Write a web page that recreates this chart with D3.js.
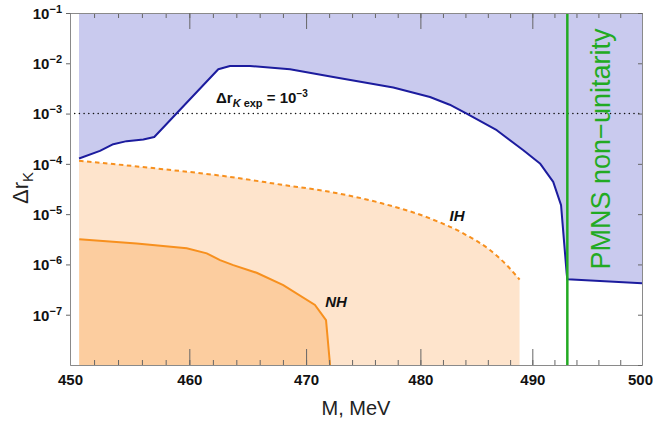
<!DOCTYPE html>
<meta charset="utf-8" />
<script src="https://d3js.org/d3.v7.min.js"></script>
<body style="margin:0;background:#fff">
<svg id="chart" width="653" height="423"></svg>
<script>
/* ── DATA ── */
const blueM = [450.75,452.49,453.60,454.72,456.12,457.04,462.46,463.46,465.17,468.61,472.36,477.61,480.85,482.6,484.11,486.80,489.19,490.69,491.89,492.60,493.11,493.17,500];
const blueR = [1.28e-4,1.81e-4,2.46e-4,2.83e-4,3.05e-4,3.43e-4,7.6e-3,8.85e-3,8.85e-3,7.6e-3,5.35e-3,3.30e-3,2.14e-3,1.5e-3,1.0e-3,4.67e-4,1.87e-4,1.02e-4,4.39e-5,1.51e-5,6.64e-7,5.05e-7,4.2e-7];

const ihM = [450.75,457.24,463.46,467.75,472.08,476.44,480.85,483.81,486.19,487.69,488.85];
const ihR = [1.15e-4,8.09e-5,5.51e-5,3.89e-5,2.77e-5,1.68e-5,8.22e-6,4.14e-6,1.93e-6,9.7e-7,5.0e-7];

const nhM = [450.77,455.56,459.78,461.48,462.61,463.74,465.74,468.03,470.77,471.73,472.08];
const nhR = [3.18e-6,2.62e-6,2.09e-6,1.66e-6,1.22e-6,9.7e-7,6.82e-7,3.88e-7,1.56e-7,7.83e-8,1e-8];

const pmnsM = 493.17;      // m_K - m_e
const expLimit = 1e-3;
const xMajor = [450,460,470,480,490,500];
const xMinor = d3.range(450,501,2);
const yTicks = [1e-8,1e-7,1e-6,1e-5,1e-4,1e-3,1e-2,1e-1];
const yLabelExp = [-7,-6,-5,-4,-3,-2,-1];

/* ── SETUP ── */
const L = 70, R = 642, T = 13, B = 365;
const font = "'Liberation Sans', Arial, sans-serif";
const svg = d3.select("#chart").style("font-family", font);
const x = d3.scaleLog().domain([450,500]).range([L,R]);
const y = d3.scaleLog().domain([1e-8,1e-1]).range([B,T]);
const zip = (a,b) => a.map((m,i)=>[m,b[i]]);

svg.append("clipPath").attr("id","clip")
  .append("rect").attr("x",L).attr("y",T).attr("width",R-L).attr("height",B-T);
const plot = svg.append("g").attr("clip-path","url(#clip)");

const line = d3.line().x(d=>x(d[0])).y(d=>y(d[1]));
const smooth = d3.line().x(d=>x(d[0])).y(d=>y(d[1])).curve(d3.curveMonotoneX);
const blue = zip(blueM,blueR), ih = zip(ihM,ihR), nh = zip(nhM,nhR);

// blue excluded region: above curve
plot.append("path")
  .attr("d", line([[blueM[0],1e-1], ...blue, [500,1e-1]]) + "Z")
  .attr("fill","#c9caee");
// IH and NH regions
plot.append("path")
  .attr("d", smooth(ih) + `L${x(ihM[ihM.length-1])},${y(1e-8)}L${x(ihM[0])},${y(1e-8)}Z`)
  .attr("fill","#fee4cc");
plot.append("path")
  .attr("d", line([[nhM[0],1e-8], ...nh]) + "Z")
  .attr("fill","#fccd9f");

// dotted experimental line
plot.append("line")
  .attr("x1",L).attr("x2",R).attr("y1",y(expLimit)).attr("y2",y(expLimit))
  .attr("stroke","#111").attr("stroke-width",1.6)
  .attr("stroke-linecap","round").attr("stroke-dasharray","0,4.7");

plot.append("path").attr("d",smooth(ih)).attr("fill","none")
  .attr("stroke","#f7901e").attr("stroke-width",2).attr("stroke-dasharray","4.5,3.5");
plot.append("path").attr("d",line(nh)).attr("fill","none")
  .attr("stroke","#f7901e").attr("stroke-width",2);
plot.append("path").attr("d",line(blue)).attr("fill","none")
  .attr("stroke","#1c1c9e").attr("stroke-width",2).attr("stroke-linejoin","round");

plot.append("line")
  .attr("x1",x(pmnsM)).attr("x2",x(pmnsM)).attr("y1",T).attr("y2",B)
  .attr("stroke","#22aa22").attr("stroke-width",2.5);

/* ── AXES / FRAME ── */
function styleAx(g){
  g.selectAll("path.domain").attr("stroke","#8a8a8a");
  g.selectAll(".tick line").attr("stroke","#666");
}
svg.append("g").attr("transform",`translate(0,${B})`)
  .call(d3.axisBottom(x).tickValues(xMinor).tickSize(-5).tickSizeOuter(0).tickFormat(""))
  .call(styleAx);
svg.append("g").attr("transform",`translate(0,${B})`)
  .call(d3.axisBottom(x).tickValues(xMajor).tickSize(-16).tickSizeOuter(0).tickPadding(9).tickFormat(d3.format("d")))
  .call(styleAx)
  .call(g=>g.selectAll(".tick text").attr("font-size",15).attr("font-weight","bold")
    .attr("font-family",font).attr("fill","#111")
    .attr("dx",d=>d===500?-2:0));
svg.append("g").attr("transform",`translate(0,${T})`)
  .call(d3.axisTop(x).tickValues(xMinor).tickSize(-5).tickSizeOuter(0).tickFormat(""))
  .call(styleAx);
svg.append("g").attr("transform",`translate(0,${T})`)
  .call(d3.axisTop(x).tickValues(xMajor).tickSize(-16).tickSizeOuter(0).tickFormat(""))
  .call(styleAx);
svg.append("g").attr("transform",`translate(${R},0)`)
  .call(d3.axisRight(y).tickValues(yTicks).tickSize(-4).tickSizeOuter(0).tickFormat(""))
  .call(styleAx);
svg.append("g").attr("transform",`translate(${L},0)`)
  .call(d3.axisLeft(y).tickValues(yTicks.slice(1)).tickSize(4).tickSizeOuter(0).tickPadding(4).tickFormat(""))
  .call(styleAx)
  .call(g=>g.selectAll(".tick text").each(function(d,i){
    const t = d3.select(this).attr("font-family",font).attr("fill","#111")
      .attr("font-weight","bold").attr("font-size",15).attr("dy","0.36em");
    t.append("tspan").text("10");
    t.append("tspan").attr("font-size",11).attr("dy","-0.55em").text("\u2212" + (-yLabelExp[i]));
  }));

/* ── TEXT ── */
svg.append("text").attr("x",356).attr("y",415).attr("text-anchor","middle")
  .attr("font-size",20).attr("fill","#222").text("M, MeV");

const yl = svg.append("text").attr("transform","translate(28,188) rotate(-90)")
  .attr("text-anchor","middle").attr("font-size",22).attr("fill","#222");
yl.append("tspan").text("\u0394r");
yl.append("tspan").attr("font-size",15).attr("dy",5).text("K");

svg.append("text").attr("transform",`translate(610,149) rotate(-90)`)
  .attr("text-anchor","middle").attr("font-size",27).attr("fill","#22aa22")
  .text("PMNS non\u2212unitarity");

const ex = svg.append("text").attr("x",216).attr("y",103)
  .attr("font-size",15).attr("font-weight","bold").attr("fill","#111");
ex.append("tspan").text("\u0394r");
ex.append("tspan").attr("font-size",11).attr("font-style","italic").attr("dy",4).text("K");
ex.append("tspan").attr("font-size",11).text(" exp");
ex.append("tspan").attr("dy",-4).text(" =  10");
ex.append("tspan").attr("font-size",10).attr("dy",-6).text("\u22123");

svg.append("text").attr("x",457).attr("y",221).attr("text-anchor","middle")
  .attr("font-size",15).attr("font-weight","bold").attr("font-style","italic").attr("fill","#111").text("IH");
svg.append("text").attr("x",336).attr("y",307).attr("text-anchor","middle")
  .attr("font-size",15).attr("font-weight","bold").attr("font-style","italic").attr("fill","#111").text("NH");
</script>
</body>
